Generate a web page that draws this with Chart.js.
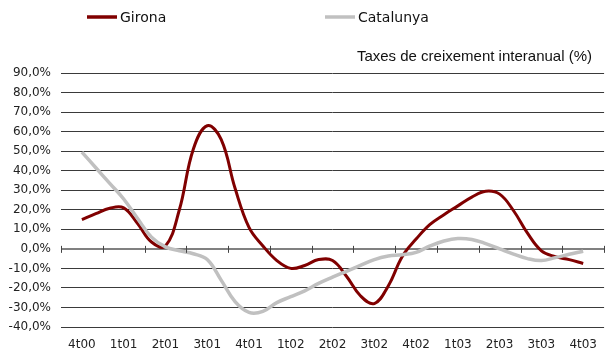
<!DOCTYPE html>
<html>
<head>
<meta charset="utf-8">
<script src="https://cdn.jsdelivr.net/npm/chart.js@4"></script>
<style>
  body { margin: 0; background: #fff; }
  #wrap { width: 608px; height: 354px; }
</style>
</head>
<body>
<div id="wrap"><canvas id="taxes" width="608" height="354"></canvas></div>
<script>
// quarterly axis labels, one every three months
const quarterLabels = ['4t00', '1t01', '2t01', '3t01', '4t01', '1t02', '2t02', '3t02', '4t02', '1t03', '2t03', '3t03', '4t03'];

// monthly year-on-year growth (%), from the middle month of 4t00 to the middle month of 4t03
const girona = [15, 18, 20.8, 21, 13, 3.5, 1.5, 20, 51, 63, 56, 31, 11,
  1.5, -6, -10, -8.5, -5.5, -6, -14, -24, -28, -19, -4, 5,
  12.5, 17.5, 22, 26.5, 29.5, 28, 19.5, 8, -1, -4, -5.5, -7.5];
const catalunya = [49.5, 41.5, 33.5, 25.5, 15.5, 6, 1, -1, -2.5, -5.5, -16, -27, -32.5,
  -32, -27.5, -24.5, -21.5, -17.7, -14.5, -11.5, -8.5, -5.5, -3.7, -3, -1.8,
  1.5, 4, 5.3, 4.8, 2.7, 0, -2.7, -5, -6, -4.5, -2.8, -1.2];

const yTicks = { min: -40, max: 90, step: 10 };

const toPoints = arr => arr.map((v, i) => ({ x: i, y: v }));

// small ticks across the zero line between quarters
const zeroTicks = {
  id: 'zeroTicks',
  afterDatasetsDraw(chart) {
    const { ctx, scales: { x, y } } = chart;
    const y0 = y.getPixelForValue(0);
    ctx.save();
    ctx.strokeStyle = '#444';
    ctx.lineWidth = 1;
    for (let k = 0; k <= quarterLabels.length; k++) {
      const px = Math.round(x.getPixelForValue(k * 3 - 1.5)) + 0.5;
      ctx.beginPath();
      ctx.moveTo(px, y0 - 3);
      ctx.lineTo(px, y0 + 4);
      ctx.stroke();
    }
    ctx.restore();
  }
};

// legend row and the unit note above the plot
const header = {
  id: 'header',
  afterDraw(chart, args, opts) {
    const { ctx } = chart;
    ctx.save();
    ctx.textBaseline = 'middle';
    chart.data.datasets.forEach((ds, i) => {
      const lx = opts.legendX[i];
      ctx.strokeStyle = ds.borderColor;
      ctx.lineWidth = 3.5;
      ctx.beginPath();
      ctx.moveTo(lx, opts.legendY);
      ctx.lineTo(lx + 30, opts.legendY);
      ctx.stroke();
      ctx.fillStyle = '#111';
      ctx.font = '14px "DejaVu Sans"';
      ctx.textAlign = 'left';
      ctx.fillText(ds.label, lx + 33, opts.legendY + 1);
    });
    ctx.font = '15px "Liberation Sans"';
    ctx.textAlign = 'right';
    ctx.fillStyle = '#111';
    ctx.fillText(opts.note, 592, 57);
    ctx.restore();
  }
};

new Chart(document.getElementById('taxes'), {
  type: 'line',
  data: {
    datasets: [
      {
        label: 'Girona',
        data: toPoints(girona),
        borderColor: '#800000',
        backgroundColor: '#800000',
        borderWidth: 3,
        pointRadius: 0,
        tension: 0.4,
        order: 1
      },
      {
        label: 'Catalunya',
        data: toPoints(catalunya),
        borderColor: '#c0c0c0',
        backgroundColor: '#c0c0c0',
        borderWidth: 3.5,
        pointRadius: 0,
        tension: 0.4,
        order: 0
      }
    ]
  },
  options: {
    responsive: false,
    animation: false,
    layout: { padding: { top: 73, left: 0, right: 0, bottom: 0 } },
    plugins: {
      legend: { display: false },
      tooltip: { enabled: false },
      header: {
        legendX: [87, 325],
        legendY: 17,
        note: 'Taxes de creixement interanual (%)'
      }
    },
    scales: {
      x: {
        type: 'linear',
        min: -1.5,
        max: quarterLabels.length * 3 - 1.5,
        afterBuildTicks: s => { s.ticks = quarterLabels.map((_, k) => ({ value: k * 3 })); },
        afterFit: s => { s.height = 27; },
        grid: { display: false, drawTicks: false },
        border: { display: false },
        ticks: {
          autoSkip: false,
          maxRotation: 0,
          padding: 11,
          color: '#222',
          font: { family: 'DejaVu Sans', size: 12 },
          callback: v => quarterLabels[v / 3]
        }
      },
      y: {
        min: yTicks.min,
        max: yTicks.max,
        afterFit: s => { s.width = 61; },
        border: { display: false },
        grid: {
          drawTicks: false,
          color: c => c.tick && c.tick.value === 0 ? '#808080' : '#3a3a3a',
          lineWidth: c => c.tick && c.tick.value === 0 ? 2 : 1
        },
        ticks: {
          stepSize: yTicks.step,
          padding: 10,
          color: '#222',
          font: { family: 'DejaVu Sans', size: 12 },
          callback: v => v.toFixed(1).replace('.', ',') + '%'
        }
      }
    }
  },
  plugins: [zeroTicks, header]
});
</script>
</body>
</html>
